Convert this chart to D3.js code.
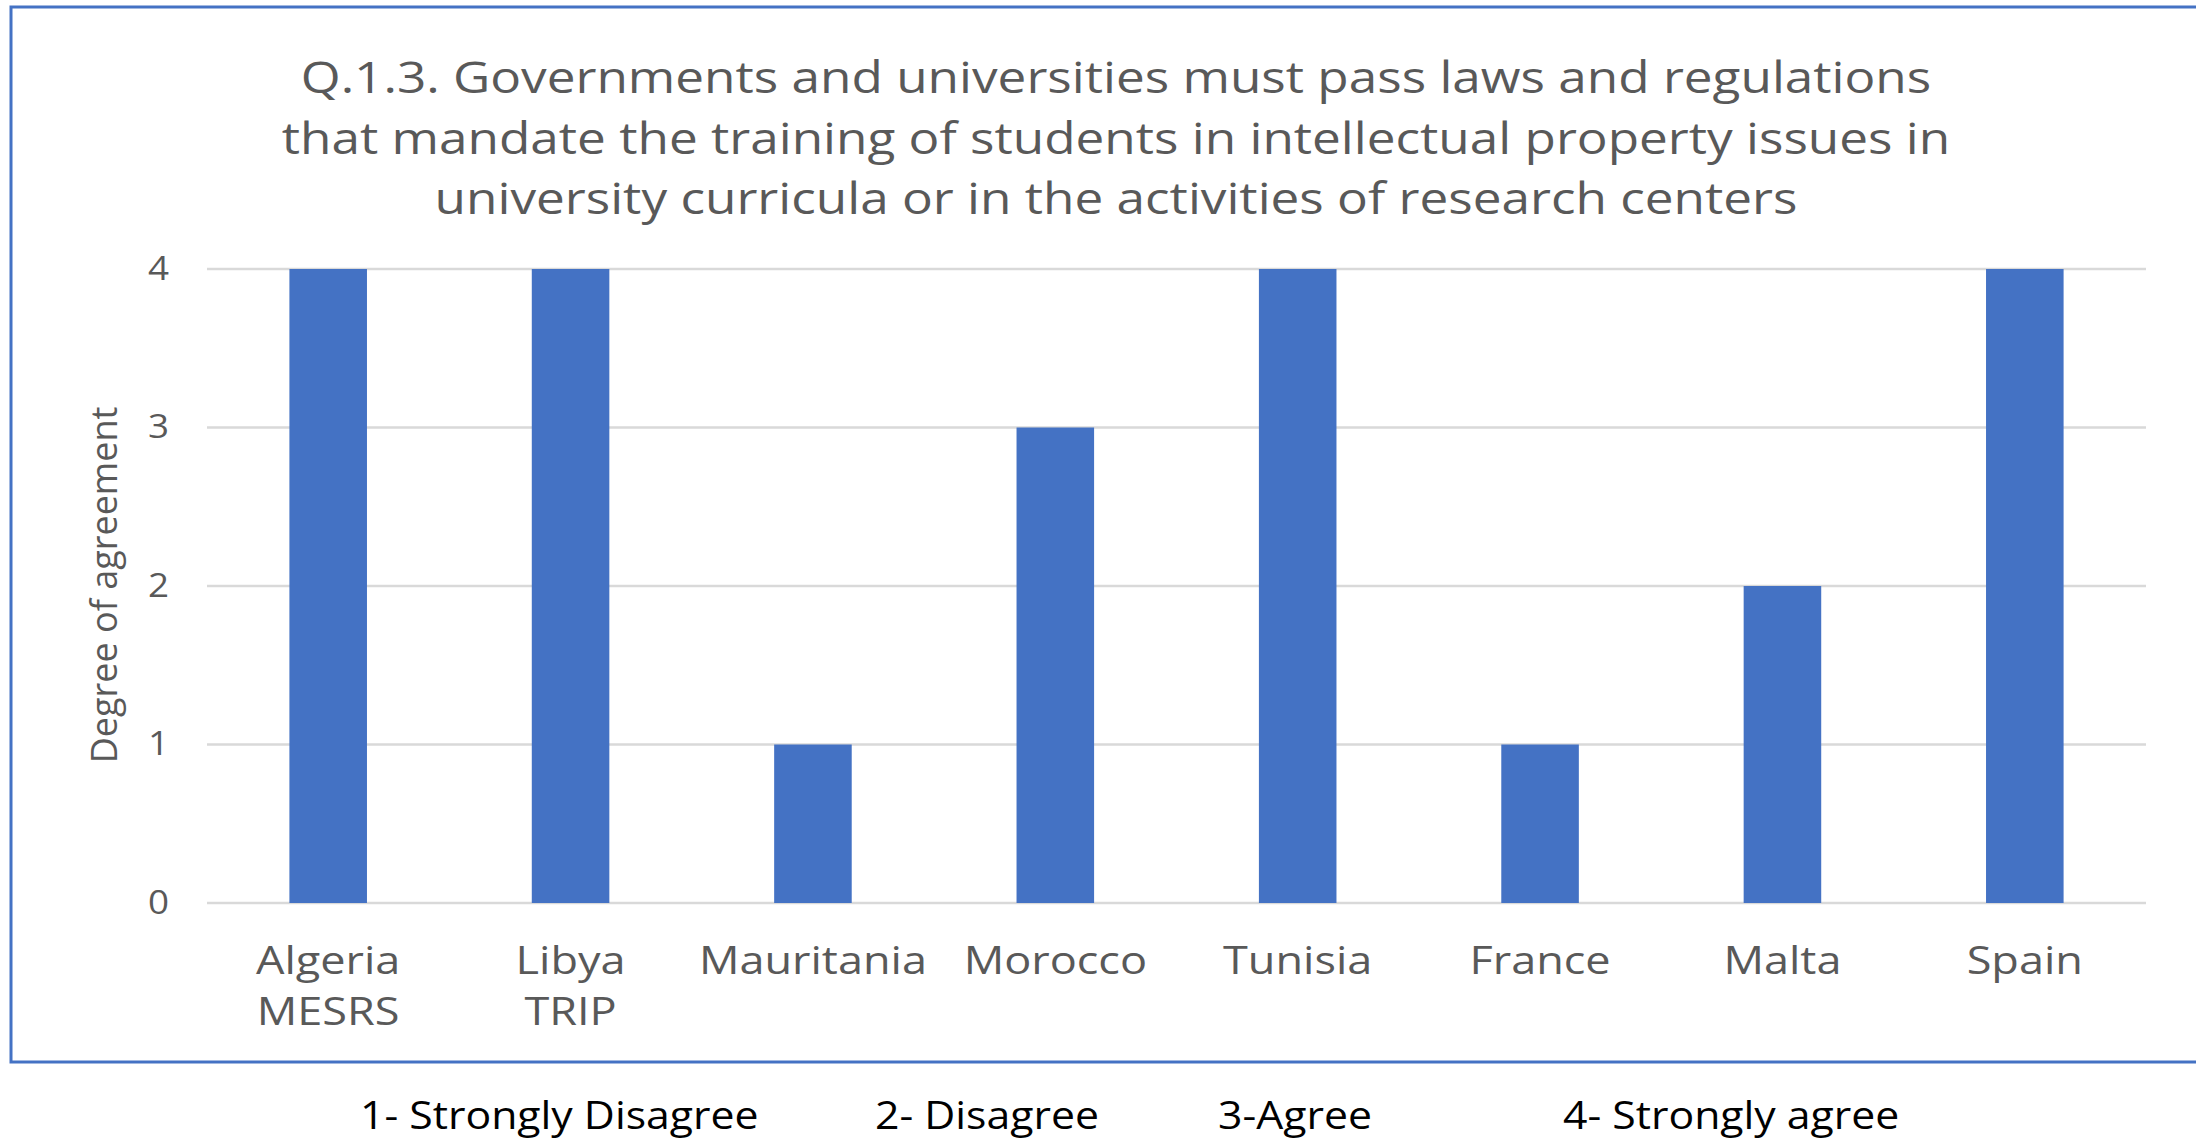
<!DOCTYPE html>
<html>
<head>
<meta charset="utf-8">
<script src="https://cdn.jsdelivr.net/npm/d3@7"></script>
<style>
  html, body { margin: 0; padding: 0; background: #ffffff; }
  svg { display: block; }
</style>
</head>
<body>
<svg id="chart" width="2196" height="1140"></svg>
<script>
const titleLines = [
  "Q.1.3. Governments and universities must pass laws and regulations",
  "that mandate the training of students in intellectual property issues in",
  "university curricula or in the activities of research centers"
];
const categories = ["Algeria\nMESRS", "Libya\nTRIP", "Mauritania", "Morocco", "Tunisia", "France", "Malta", "Spain"];
const values = [4, 4, 1, 3, 4, 1, 2, 4];
const yTicks = [0, 1, 2, 3, 4];
const yTitle = "Degree of agreement";
const legendItems = ["1- Strongly Disagree", "2- Disagree", "3-Agree", "4- Strongly agree"];
const legendX = [360, 875, 1218, 1563];

const svg = d3.select("#chart");
const plot = { left: 207, right: 2146, top: 269, bottom: 903 };
const stretch = 1.15;

// chart border (blue frame, open on the right)
svg.append("path")
  .attr("d", `M2200,7 L11,7 L11,1062 L2200,1062`)
  .attr("fill", "none")
  .attr("stroke", "#4472C4")
  .attr("stroke-width", 3);

const x = d3.scaleBand()
  .domain(categories)
  .range([plot.left, plot.right])
  .paddingInner(0.68)
  .paddingOuter(0.34);

const y = d3.scaleLinear()
  .domain([0, 4])
  .range([plot.bottom, plot.top]);

// gridlines
svg.append("g")
  .selectAll("line")
  .data(yTicks)
  .join("line")
  .attr("x1", plot.left)
  .attr("x2", plot.right)
  .attr("y1", d => y(d))
  .attr("y2", d => y(d))
  .attr("stroke", "#D9D9D9")
  .attr("stroke-width", 2.5);

// y axis labels
const yAxis = d3.axisLeft(y).tickValues(yTicks).tickSize(0).tickPadding(0).tickFormat(d3.format("d"));
const yG = svg.append("g")
  .attr("transform", `translate(169,0)`)
  .call(yAxis);
yG.select(".domain").remove();
yG.selectAll("text")
  .attr("font-family", "'Open Sans', sans-serif")
  .attr("font-size", 32)
  .attr("fill", "#595959")
  .attr("transform", `scale(${stretch},1)`);

// bars
svg.append("g")
  .selectAll("rect")
  .data(values)
  .join("rect")
  .attr("x", (d, i) => x(categories[i]))
  .attr("width", x.bandwidth())
  .attr("y", d => y(d))
  .attr("height", d => y(0) - y(d))
  .attr("fill", "#4472C4");

// x axis labels
const xAxis = d3.axisBottom(x).tickSize(0).tickPadding(0);
const xG = svg.append("g")
  .attr("transform", `translate(0,${plot.bottom})`)
  .call(xAxis);
xG.select(".domain").remove();
xG.selectAll(".tick text").each(function(d) {
  const t = d3.select(this);
  t.text(null)
   .attr("y", 0)
   .attr("dy", null)
   .attr("font-family", "'Open Sans', sans-serif")
   .attr("font-size", 38.5)
   .attr("fill", "#595959")
   .attr("transform", `scale(1.17,1)`);
  d.split("\n").forEach((line, k) => {
    t.append("tspan")
      .attr("x", 0)
      .attr("y", 71 + k * 51)
      .text(line);
  });
});

// title
svg.append("g")
  .selectAll("text")
  .data(titleLines)
  .join("text")
  .attr("transform", (d, i) => `translate(1116,${93 + i * 60.5}) scale(1.152,1)`)
  .attr("text-anchor", "middle")
  .attr("font-family", "'Open Sans', sans-serif")
  .attr("font-size", 44.5)
  .attr("fill", "#595959")
  .text(d => d);

// y title
svg.append("text")
  .attr("transform", `translate(117,585) rotate(-90)`)
  .attr("text-anchor", "middle")
  .attr("font-family", "'Open Sans', sans-serif")
  .attr("font-size", 36)
  .attr("fill", "#595959")
  .text(yTitle);

// legend text
svg.append("g")
  .selectAll("text")
  .data(legendItems)
  .join("text")
  .attr("transform", (d, i) => `translate(${legendX[i]},1129) scale(1.14,1)`)
  .attr("font-family", "'Open Sans', sans-serif")
  .attr("font-size", 37.5)
  .attr("fill", "#000000")
  .text(d => d);
</script>
</body>
</html>
